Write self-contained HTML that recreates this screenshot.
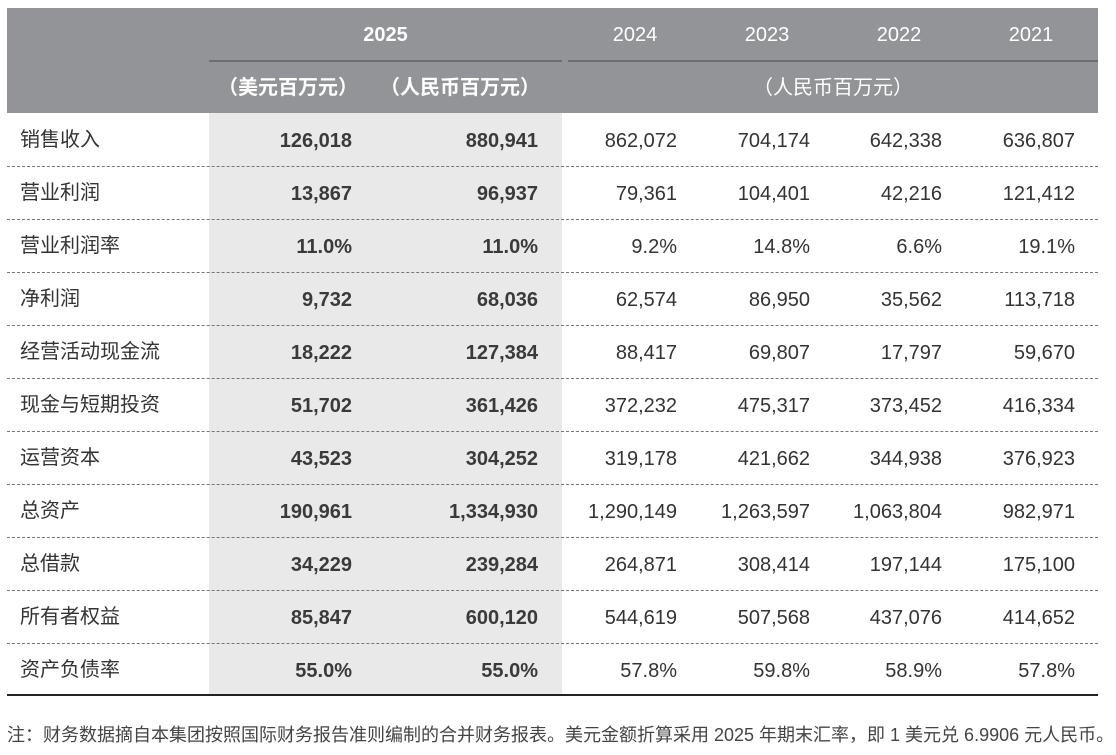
<!DOCTYPE html>
<html><head><meta charset="utf-8"><style>
body{margin:0;width:1116px;height:755px;background:#fff;position:relative;overflow:hidden;font-family:"Liberation Sans","Noto Sans CJK SC",sans-serif;color:#333}
.a{position:absolute;white-space:nowrap}
.hd{position:absolute;left:7px;top:8px;width:1091px;height:105px;background:#939497}
.band{position:absolute;left:209px;top:113px;width:353px;height:582px;background:#e9e9ea}
.hl{position:absolute;height:2px;background:#6d6e71;top:60px}
.w{color:#fff;font-size:20px;line-height:24px}
.row{position:absolute;left:7px;width:1091px;height:53px}
.sep{position:absolute;left:7px;width:1091px;border-top:1px dashed #777}
.c{position:absolute;top:16px;font-size:20px;line-height:24px;text-align:right;width:160px}
.b{font-weight:bold;color:#3a3a3a}
.l{position:absolute;left:13px;top:14px;font-size:20px;line-height:26px;color:#333}
</style></head><body>
<div class="hd"></div>
<div class="band"></div>
<div class="hl" style="left:209px;width:353px"></div>
<div class="hl" style="left:568px;width:530px"></div>
<div class="a w" style="left:209px;width:353px;text-align:center;top:23px;font-weight:bold">2025</div>
<div class="a w" style="left:575px;width:120px;text-align:center;top:23px">2024</div>
<div class="a w" style="left:707px;width:120px;text-align:center;top:23px">2023</div>
<div class="a w" style="left:839px;width:120px;text-align:center;top:23px">2022</div>
<div class="a w" style="left:971px;width:120px;text-align:center;top:23px">2021</div>
<div class="a w" style="left:218px;top:76px;font-weight:bold">（美元百万元）</div>
<div class="a w" style="left:380px;top:76px;font-weight:bold">（人民币百万元）</div>
<div class="a w" style="left:568px;width:530px;text-align:center;top:76px">（人民币百万元）</div>
<div id="rows"></div>
<div class="a" style="left:7px;top:694px;width:1091px;height:2px;background:#222"></div>
<div class="a" style="left:7px;top:721px;font-size:18px;color:#444">注：财务数据摘自本集团按照国际财务报告准则编制的合并财务报表。美元金额折算采用 2025 年期末汇率，即 1 美元兑 6.9906 元人民币。</div>
<script>
var d=[["销售收入","126,018","880,941","862,072","704,174","642,338","636,807"],
["营业利润","13,867","96,937","79,361","104,401","42,216","121,412"],
["营业利润率","11.0%","11.0%","9.2%","14.8%","6.6%","19.1%"],
["净利润","9,732","68,036","62,574","86,950","35,562","113,718"],
["经营活动现金流","18,222","127,384","88,417","69,807","17,797","59,670"],
["现金与短期投资","51,702","361,426","372,232","475,317","373,452","416,334"],
["运营资本","43,523","304,252","319,178","421,662","344,938","376,923"],
["总资产","190,961","1,334,930","1,290,149","1,263,597","1,063,804","982,971"],
["总借款","34,229","239,284","264,871","308,414","197,144","175,100"],
["所有者权益","85,847","600,120","544,619","507,568","437,076","414,652"],
["资产负债率","55.0%","55.0%","57.8%","59.8%","58.9%","57.8%"]];
var R=[352,538,677,810,942,1075],h="";
d.forEach(function(r,i){var t=113+i*53;
h+='<div class="row" style="top:'+t+'px"><div class="l">'+r[0]+'</div>';
for(var j=1;j<7;j++)h+='<div class="c'+(j<3?' b':'')+'" style="left:'+(R[j-1]-7-160)+'px">'+r[j]+'</div>';
h+='</div>';if(i<10)h+='<div class="sep" style="top:'+(t+53)+'px"></div>';});
document.getElementById('rows').innerHTML=h;
</script>
</body></html>
